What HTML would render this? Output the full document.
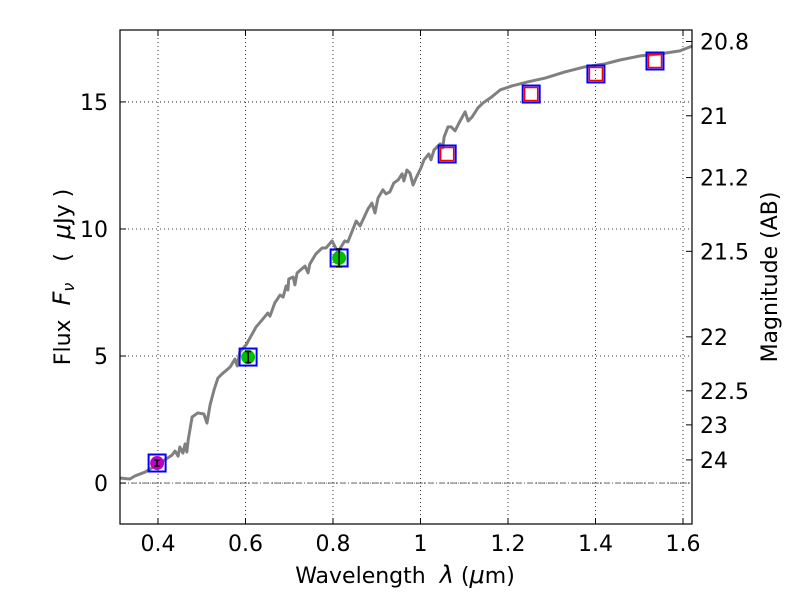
<!DOCTYPE html>
<html><head><meta charset="utf-8"><style>
body{margin:0;background:#fff;}
svg{display:block;font-family:"DejaVu Sans","Liberation Sans",sans-serif;}
</style></head><body>
<svg id="chart" width="800" height="600">
<g id="grid"></g>
<g id="marks"></g>
<g id="axes"></g>
<text x="405" y="583" font-size="22" text-anchor="middle" xml:space="preserve">Wavelength  <tspan font-style="italic" font-size="24">λ</tspan> (<tspan font-style="italic" font-size="24">μ</tspan>m)</text>
<text transform="translate(70,277) rotate(-90)" font-size="22" text-anchor="middle" xml:space="preserve">Flux  <tspan font-style="italic" font-size="24">F<tspan font-size="16" dy="4">ν</tspan></tspan><tspan dy="-4">   (  </tspan><tspan font-style="italic" font-size="24">μ</tspan>Jy )</text>
<text transform="translate(777,277) rotate(-90)" font-size="22" text-anchor="middle">Magnitude (AB)</text>
</svg>
<script>
const specWave=[0.313,0.336,0.347,0.370,0.405,0.432,0.439,0.446,0.450,0.457,0.462,0.466,0.469,0.478,0.491,0.505,0.512,0.519,0.528,0.537,0.546,0.565,0.576,0.581,0.587,0.601,0.619,0.624,0.638,0.651,0.656,0.667,0.679,0.686,0.693,0.697,0.699,0.709,0.713,0.718,0.736,0.743,0.747,0.761,0.775,0.784,0.798,0.811,0.827,0.834,0.843,0.853,0.862,0.880,0.889,0.896,0.903,0.914,0.921,0.930,0.939,0.949,0.958,0.962,0.969,0.976,0.983,0.990,1.001,1.008,1.019,1.024,1.031,1.045,1.051,1.054,1.063,1.070,1.079,1.088,1.102,1.109,1.118,1.131,1.143,1.163,1.182,1.209,1.246,1.285,1.330,1.376,1.422,1.456,1.502,1.547,1.593,1.621];
const specFlux=[0.20,0.16,0.28,0.43,0.79,1.10,1.26,1.06,1.42,1.18,1.54,1.22,1.69,2.60,2.76,2.72,2.36,3.07,3.66,4.13,4.29,4.57,4.88,4.61,5.16,5.43,5.98,6.14,6.42,6.69,6.57,7.09,7.40,7.32,7.76,7.60,8.03,8.11,7.80,8.27,8.54,8.27,8.62,9.02,9.25,9.25,9.53,9.09,9.53,9.49,9.88,10.31,10.12,10.79,11.02,10.63,11.22,11.54,11.38,11.46,11.81,11.93,12.17,11.89,12.32,12.20,11.73,12.01,12.40,12.72,12.95,12.72,13.11,13.35,13.19,13.62,14.02,14.02,13.86,14.17,14.61,14.25,14.41,14.76,14.96,15.20,15.47,15.63,15.79,15.94,16.18,16.38,16.50,16.65,16.81,16.89,17.01,17.20];
const photWave=[0.398,0.606,0.814];
const photFlux=[0.79,4.96,8.86];
const photErr=[0.12,0.22,0.35];
const photColor=['#bf00bf','#00bf00','#00bf00'];
const modelWave=[0.398,0.606,0.814,1.061,1.253,1.401,1.536];
const modelFlux=[0.79,4.96,8.86,12.95,15.31,16.10,16.61];
const upperWave=[1.061,1.253,1.401,1.536];
const upperFlux=[12.95,15.31,16.10,16.61];
const xTicks=[0.4,0.6,0.8,1.0,1.2,1.4,1.6];
const xTickLabels=['0.4','0.6','0.8','1','1.2','1.4','1.6'];
const yTicks=[0,5,10,15];
const magTicks=[20.8,21,21.2,21.5,22,22.5,23,24];
const magLabels=['20.8','21','21.2','21.5','22','22.5','23','24'];
const X0=120,X1=692,Y0=30,Y1=524;
const xMin=0.3132,xMax=1.6206,yMin=-1.61,yMax=17.83;
const sx=v=>X0+(v-xMin)/(xMax-xMin)*(X1-X0);
const sy=v=>Y1-(v-yMin)/(yMax-yMin)*(Y1-Y0);
const NS='http://www.w3.org/2000/svg';
function mk(p,t,a){const e=document.createElementNS(NS,t);for(const k in a)e.setAttribute(k,a[k]);p.appendChild(e);return e;}
const grid=document.getElementById('grid'),marks=document.getElementById('marks'),axes=document.getElementById('axes');
xTicks.forEach(v=>{const l=mk(grid,'line',{x1:sx(v),x2:sx(v),y1:Y0,y2:Y1,stroke:'#000','stroke-width':0.8,'stroke-dasharray':'1,3'});

});
yTicks.forEach(v=>{const l=mk(grid,'line',{x1:X0,x2:X1,y1:sy(v),y2:sy(v),stroke:'#000','stroke-width':0.8,'stroke-dasharray':'1,3'});

});
const zl=mk(grid,'line',{x1:X0,x2:X1,y1:sy(0),y2:sy(0),stroke:'#555','stroke-width':0.8,'stroke-dasharray':'6,2,1,2'});


const sp=mk(marks,'polyline',{points:specWave.map((w,i)=>sx(w)+','+sy(specFlux[i])).join(' '),fill:'none',stroke:'#808080','stroke-width':3,'stroke-linejoin':'round'});


modelWave.forEach((w,i)=>{const r=mk(marks,'rect',{x:sx(w)-8.5,y:sy(modelFlux[i])-8.5,width:17,height:17,fill:'none',stroke:'#0000ff','stroke-width':2});

});
upperWave.forEach((w,i)=>{const r=mk(marks,'rect',{x:sx(w)-6.5,y:sy(upperFlux[i])-6.5,width:13,height:13,fill:'none',stroke:'#ff0000','stroke-width':1.5});

});
photWave.forEach((w,i)=>{const cx=sx(w),cy=sy(photFlux[i]);
const c=mk(marks,'circle',{cx:cx,cy:cy,r:7,fill:photColor[i]});


const t=sy(photFlux[i]+photErr[i]),b=sy(photFlux[i]-photErr[i]);
const e=mk(marks,'path',{d:`M${cx},${t}V${b}M${cx-3},${t}H${cx+3}M${cx-3},${b}H${cx+3}`,stroke:'#000','stroke-width':1.5,fill:'none'});

});
const fr=mk(axes,'rect',{x:X0,y:Y0,width:X1-X0,height:Y1-Y0,fill:'none',stroke:'#000','stroke-width':1.2});


xTicks.forEach((v,i)=>{const x=sx(v);mk(axes,'line',{x1:x,x2:x,y1:Y1,y2:Y1-6,stroke:'#000'});mk(axes,'line',{x1:x,x2:x,y1:Y0,y2:Y0+6,stroke:'#000'});
const t=mk(axes,'text',{x:x,y:Y1+27,'font-size':22,'text-anchor':'middle'});t.textContent=xTickLabels[i];

});
yTicks.forEach(v=>{const y=sy(v);mk(axes,'line',{x1:X0,x2:X0+6,y1:y,y2:y,stroke:'#000'});
const t=mk(axes,'text',{x:X0-12,y:y+8,'font-size':22,'text-anchor':'end'});t.textContent=v;

});
magTicks.forEach((m,i)=>{const y=sy(Math.pow(10,(23.9-m)/2.5));mk(axes,'line',{x1:X1,x2:X1-6,y1:y,y2:y,stroke:'#000'});
const t=mk(axes,'text',{x:X1+8,y:y+8,'font-size':22});t.textContent=magLabels[i];

});
</script>
</body></html>
